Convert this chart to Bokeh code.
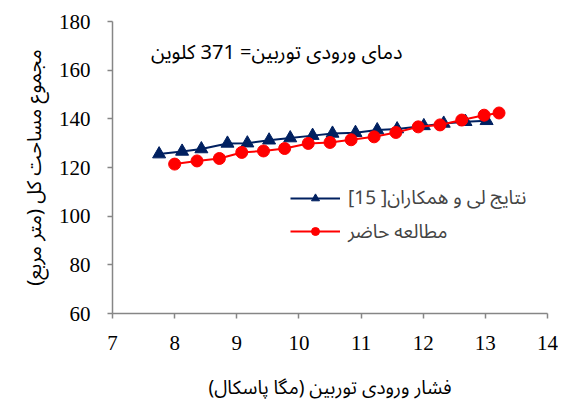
from bokeh.plotting import figure
from bokeh.models import Label, Legend, LegendItem, FixedTicker
from bokeh.embed import file_html
from bokeh.resources import INLINE

# Data
lee_x = [7.75, 8.12, 8.43, 8.85, 9.17, 9.52, 9.86, 10.22, 10.54, 10.91, 11.26, 11.58, 12.01, 12.33, 12.68, 13.02]
lee_y = [125.5, 126.6, 127.6, 129.9, 130.0, 131.2, 132.1, 133.1, 134.0, 134.3, 135.4, 135.8, 137.1, 138.1, 138.8, 139.2]
cur_x = [8.0, 8.36, 8.72, 9.08, 9.43, 9.77, 10.15, 10.50, 10.84, 11.21, 11.56, 11.92, 12.27, 12.62, 12.98, 13.22]
cur_y = [121.4, 122.7, 123.7, 126.2, 126.8, 127.8, 129.9, 130.3, 131.4, 132.6, 134.4, 136.7, 137.5, 139.5, 141.5, 142.4]
x_ticks = [7, 8, 9, 10, 11, 12, 13, 14]
y_ticks = [60, 80, 100, 120, 140, 160, 180]

lee_label = "نتایج لی و همکاران[ 15]"
cur_label = "مطالعه حاضر"
title_text = "دمای ورودی توربین= 371 کلوین"
x_title = "فشار ورودی توربین (مگا پاسکال)"
y_title = "مجموع مساحت کل (متر مربع)"

NAVY = "#002060"
RED = "#FF0000"
AXC = "#868686"
PFONT = "'Noto Sans Arabic', 'DejaVu Sans'"
UIFONT = "'Noto Sans Arabic UI', 'Noto Sans Arabic', 'DejaVu Sans'"
NFONT = "Times New Roman"

p = figure(width=558, height=403, output_backend="svg", toolbar_location=None,
           x_range=(7, 14), y_range=(60, 180),
           min_border_left=112, min_border_right=11, min_border_top=21, min_border_bottom=90)
p.outline_line_color = None
p.xgrid.visible = False
p.ygrid.visible = False
p.background_fill_color = "white"
p.border_fill_color = "white"

for ax in (p.xaxis[0], p.yaxis[0]):
    ax.axis_line_color = AXC
    ax.axis_line_width = 1.5
    ax.major_tick_line_color = AXC
    ax.major_tick_line_width = 1.5
    ax.major_tick_out = 5
    ax.major_tick_in = 0
    ax.minor_tick_line_color = None
    ax.major_label_text_font = NFONT
    ax.major_label_text_font_size = "21px"
    ax.major_label_text_color = "black"
    ax.axis_label_text_font_style = "normal"
    ax.axis_label_text_color = "black"

p.xaxis.axis_label_text_font = UIFONT
p.yaxis.axis_label_text_font = PFONT
p.xaxis.axis_label_text_font_size = "19px"
p.yaxis.axis_label_text_font_size = "20px"
p.xaxis.ticker = FixedTicker(ticks=x_ticks)
p.yaxis.ticker = FixedTicker(ticks=y_ticks)
p.xaxis.major_label_standoff = 17
p.yaxis.major_label_standoff = 17
p.xaxis.axis_label = x_title
p.yaxis.axis_label = y_title
p.xaxis.axis_label_standoff = 21
p.yaxis.axis_label_standoff = 0

l1 = p.line(lee_x, lee_y, line_color=NAVY, line_width=2)
s1 = p.scatter(lee_x, lee_y, marker="triangle", size=13, fill_color=NAVY, line_color=NAVY)
l2 = p.line(cur_x, cur_y, line_color=RED, line_width=2)
s2 = p.scatter(cur_x, cur_y, marker="circle", size=12, fill_color=RED, line_color=RED)

common = dict(glyph_width=50, glyph_height=20, label_height=20, spacing=0, padding=0,
              margin=0, label_standoff=8, label_text_font=UIFONT,
              label_text_font_size="19px", background_fill_alpha=0, border_line_color=None)
leg1 = Legend(items=[LegendItem(label=lee_label, renderers=[l1, s1])], location=(178, 95), **common)
leg2 = Legend(items=[LegendItem(label=cur_label, renderers=[l2, s2])], location=(178, 69), **common)
p.add_layout(leg1, "center")
p.add_layout(leg2, "center")

p.add_layout(Label(x=7.62, y=167.1, text=title_text, text_font=PFONT,
                   text_font_size="20px", text_color="black", text_align="left",
                   text_baseline="alphabetic"))

open("out.html", "w").write(file_html(p, INLINE))
